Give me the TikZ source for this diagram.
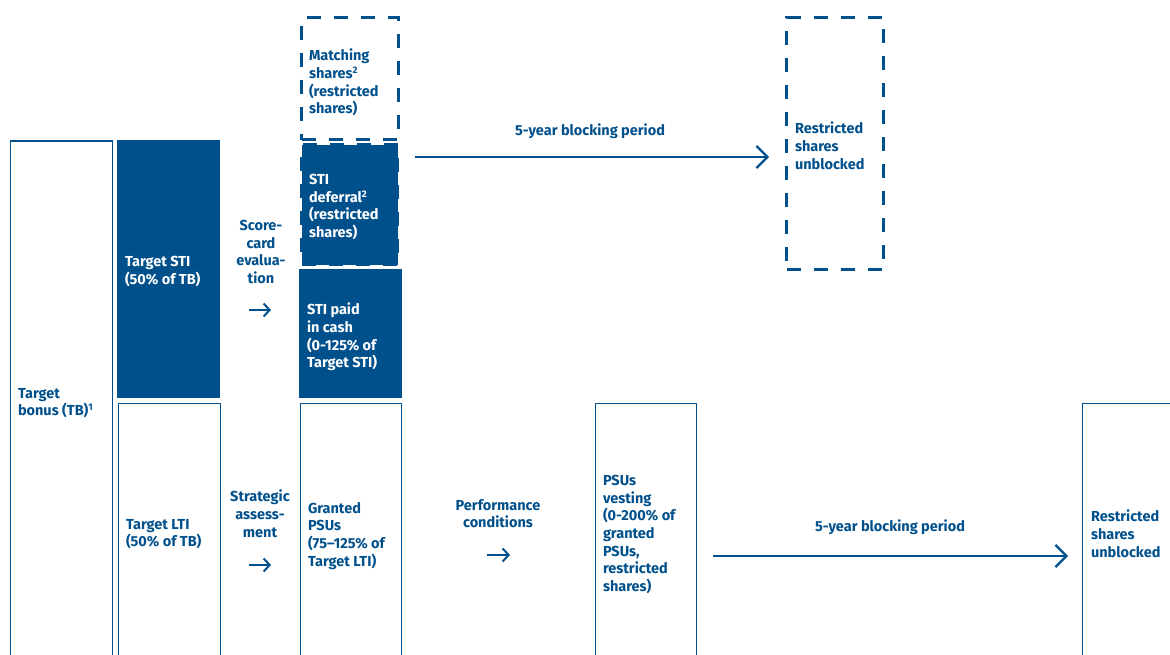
\documentclass[tikz,border=0pt]{standalone}
\usepackage{fontspec}
\setmainfont{Fira Sans}
\usetikzlibrary{arrows.meta}
\definecolor{db}{HTML}{00508C}
\tikzset{
  outbox/.style={draw=db, line width=1.3pt, inner sep=0pt, outer sep=0pt, anchor=north west},
  fillbox/.style={fill=db, inner sep=0pt, outer sep=0pt, anchor=north west},
  dashbox/.style={draw=db, line width=3pt, dash pattern=on 14pt off 13pt, inner sep=0pt, outer sep=0pt, anchor=north west},
  txt/.style={text=db, inner sep=0pt, outer sep=0pt, anchor=north west, align=left, yshift=-2.5pt,
    font=\fontsize{14.5}{17.7}\selectfont\bfseries, execute at begin node=\strut},
  ctxt/.style={txt, anchor=north, align=center},
  wtxt/.style={txt, text=white},
  bigarrow/.style={draw=db, line width=2.2pt, -{Straight Barb[length=11pt, width=22pt, line width=2.2pt]}},
  smallarrow/.style={draw=db, line width=2pt, -{Straight Barb[length=6pt, width=13pt, line width=2pt]}}
}
\newcommand{\supnum}[1]{\raisebox{5pt}{\fontsize{9.5}{9.5}\selectfont #1}}
\begin{document}
\begin{tikzpicture}[x=1pt, y=-1pt]
\useasboundingbox (0,0) rectangle (1170,654);
\clip (0,0) rectangle (1170,654);
% boxes
\node[outbox, minimum width=102pt, minimum height=560pt] (tb) at (10.5,141) {};
\node[fillbox, minimum width=103pt, minimum height=258pt] (sti) at (117,140) {};
\node[outbox, minimum width=102pt, minimum height=300pt] (lti) at (118.5,403.5) {};
\node[dashbox, minimum width=97pt, minimum height=122pt] (match) at (301.5,17.5) {};
\node[dashbox, fill=db, minimum width=96pt, minimum height=120pt] (defer) at (301.5,144.5) {};
\node[fillbox, minimum width=103pt, minimum height=129pt] (cash) at (299,269) {};
\node[outbox, minimum width=101pt, minimum height=300pt] (psu) at (300.5,403.5) {};
\node[dashbox, minimum width=97pt, minimum height=252pt] (unbA) at (786.5,17.5) {};
\node[outbox, minimum width=101pt, minimum height=300pt] (vest) at (595.5,403.5) {};
\node[outbox, minimum width=150pt, minimum height=300pt] (unbB) at (1082.5,403.5) {};
% labels
\node[txt] (tbl) at (18,385.6) {Target\\bonus (TB)\supnum{1}};
\node[wtxt] (stil) at (125,253.6) {Target STI\\(50\% of TB)};
\node[txt] (ltil) at (126,516.6) {Target LTI\\(50\% of TB)};
\node[ctxt] (score) at (261,217.6) {Score-\\card\\evalua-\\tion};
\node[ctxt] (strat) at (260,487.6) {Strategic\\assess-\\ment};
\node[txt] (matchl) at (309,46.6) {Matching\\shares\supnum{2}\\(restricted\\shares)};
\node[wtxt] (deferl) at (309,171.6) {STI\\deferral\supnum{2}\\(restricted\\shares)};
\node[wtxt] (cashl) at (307,300.6) {STI paid\\in cash\\(0-125\% of\\Target STI)};
\node[txt] (psul) at (308,499.6) {Granted\\PSUs\\(75–125\% of\\Target LTI)};
\node[ctxt] (blockA) at (590,120.6) {5-year blocking period};
\node[txt] (unbAl) at (795,119.6) {Restricted\\shares\\unblocked};
\node[ctxt] (perf) at (498,496.6) {Performance\\conditions};
\node[txt] (vestl) at (603,472.6) {PSUs\\vesting\\(0-200\% of\\granted\\PSUs,\\restricted\\shares)};
\node[ctxt] (blockB) at (890,516.6) {5-year blocking period};
\node[txt] (unbBl) at (1091,507.6) {Restricted\\shares\\unblocked};
% arrows
\coordinate (a1s) at (415,157);
\coordinate (a1e) at (769,157);
\coordinate (a2s) at (713,556);
\coordinate (a2e) at (1068,556);
\coordinate (s1s) at (249,310);
\coordinate (s1e) at (271,310);
\coordinate (s2s) at (249,565);
\coordinate (s2e) at (271,565);
\coordinate (s3s) at (487,555);
\coordinate (s3e) at (510,555);
\draw[bigarrow] (a1s) -- (a1e);
\draw[bigarrow] (a2s) -- (a2e);
\draw[smallarrow] (s1s) -- (s1e);
\draw[smallarrow] (s2s) -- (s2e);
\draw[smallarrow] (s3s) -- (s3e);
\end{tikzpicture}
\end{document}
